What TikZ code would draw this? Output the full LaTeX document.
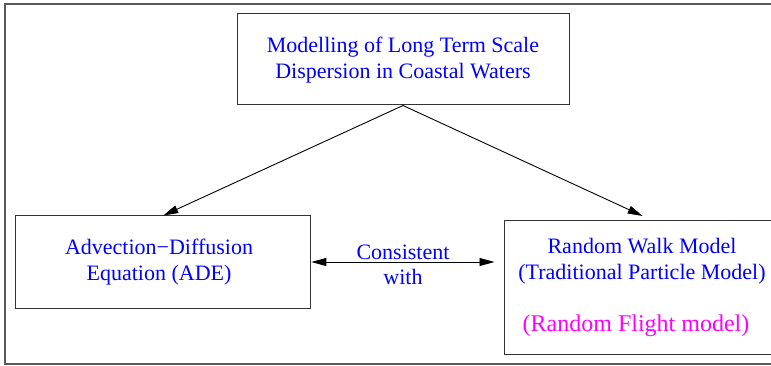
\documentclass[tikz,border=0pt]{standalone}
\usepackage{fontspec}
\setmainfont{Liberation Serif}
\usetikzlibrary{arrows.meta}
\definecolor{txtblue}{RGB}{0,0,255}
\definecolor{txtmag}{RGB}{255,0,255}
\tikzset{
  box/.style={draw=black!80, line width=1pt, rectangle, inner sep=0pt},
  label/.style={text=txtblue, align=center, inner sep=0pt,
    font=\fontsize{22}{25.5}\selectfont},
  link/.style={line width=0.9pt, -{Triangle[length=15pt,width=8pt]}},
  dlink/.style={line width=0.9pt, {Triangle[length=15pt,width=8pt]}-{Triangle[length=15pt,width=8pt]}},
}
\begin{document}
\begin{tikzpicture}[x=1pt,y=-1pt]
\useasboundingbox (0,0) rectangle (771,366);
% outer frame, open on the right
\draw[black!65, line width=1.5pt] (790,4) -- (5,4) -- (5,364) -- (790,364);
% boxes
\node[box, minimum width=332pt, minimum height=91pt] (top) at (403,59.5) {};
\node[label] (toptext) at (403,60) {Modelling of Long Term Scale\\Dispersion in Coastal Waters};
\node[box, minimum width=295pt, minimum height=92pt] (ade) at (163.3,262) {};
\node[label] (adetext) at (159,262) {Advection−Diffusion\\Equation (ADE)};
\node[box, minimum width=282pt, minimum height=133pt] (rw) at (645,287.5) {};
\node[label] (rwtext) at (642,261) {Random Walk Model\\(Traditional Particle Model)};
\node[label, text=txtmag, font=\fontsize{24}{27}\selectfont] (rf) at (636,326) {(Random Flight model)};
% connectors
\coordinate (rwtip) at (642.7,216);
\draw[link] (top.south) -- (ade.north);
\draw[link] (top.south) -- (rwtip);
\draw[dlink, shorten >=9pt] (ade.east) -- (ade.east -| rw.west);
\node[label] (cons) at (403,265) {Consistent\\with};
\end{tikzpicture}
\end{document}
